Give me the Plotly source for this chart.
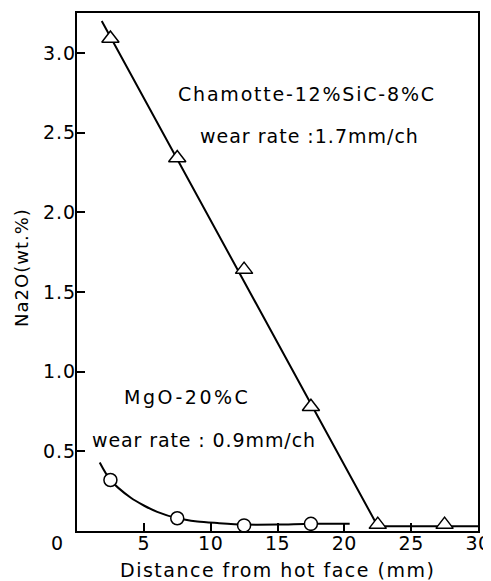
import plotly.graph_objects as go

# Chamotte-12%SiC-8%C measured points
cham_x = [2.5, 7.5, 12.5, 17.5, 22.5, 27.5]
cham_y = [3.09, 2.34, 1.64, 0.78, 0.04, 0.04]
# Chamotte trend line
cham_line_x = [1.85, 22.5, 30.0]
cham_line_y = [3.2, 0.03, 0.03]

# MgO-20%C measured points
mgo_x = [2.5, 7.5, 12.5, 17.5]
mgo_y = [0.32, 0.08, 0.035, 0.045]
# MgO trend curve
mgo_curve_x = [1.7, 2.5, 4.0, 5.0, 6.0, 7.5, 9.0, 10.5, 12.5, 15.0, 17.5, 20.4]
mgo_curve_y = [0.43, 0.32, 0.21, 0.16, 0.12, 0.08, 0.06, 0.05, 0.04, 0.04, 0.045, 0.045]

x_ticks = [5, 10, 15, 20, 25, 30]
y_ticks = [0.5, 1.0, 1.5, 2.0, 2.5, 3.0]
y_tick_labels = ["0.5", "1.0", "1.5", "2.0", "2.5", "3.0"]

FONT = "DejaVu Sans, Verdana, sans-serif"


def spaced(s, px=1.5):
    return '<span style="letter-spacing:%spx">%s</span>' % (px, s)


fig = go.Figure()
fig.add_trace(go.Scatter(x=cham_line_x, y=cham_line_y, mode="lines",
                         line=dict(color="black", width=2), hoverinfo="skip"))
fig.add_trace(go.Scatter(x=mgo_curve_x, y=mgo_curve_y, mode="lines",
                         line=dict(color="black", width=2, shape="spline", smoothing=0.8),
                         hoverinfo="skip"))
fig.add_trace(go.Scatter(x=cham_x, y=cham_y, mode="markers",
                         marker=dict(symbol="triangle-up", size=15, color="white",
                                     line=dict(color="black", width=1.5))))
fig.add_trace(go.Scatter(x=mgo_x, y=mgo_y, mode="markers",
                         marker=dict(symbol="circle", size=13, color="white",
                                     line=dict(color="black", width=1.5))))

ann_font = dict(family=FONT, size=19, color="black")
annotations = [
    dict(x=17.2, y=2.74, text=spaced("Chamotte-12%SiC-8%C", 1.8)),
    dict(x=17.43, y=2.48, text=spaced("wear rate :1.7mm/ch", 1.0)),
    dict(x=8.2, y=0.84, text=spaced("MgO-20%C", 2.5)),
    dict(x=9.5, y=0.57, text=spaced("wear rate : 0.9mm/ch", 0.9)),
]
for a in annotations:
    a.update(xref="x", yref="y", showarrow=False, font=ann_font)
annotations.append(dict(x=-0.05, y=-0.023, xref="paper", yref="paper", text="0",
                        showarrow=False, xanchor="center", yanchor="middle",
                        font=dict(family=FONT, size=19, color="black")))
# axis titles
annotations.append(dict(x=-0.137, y=0.508, xref="paper", yref="paper",
                        text=spaced("Na2O(wt.%)", 1), textangle=-90,
                        showarrow=False, xanchor="center", yanchor="middle",
                        font=dict(family=FONT, size=18, color="black")))
annotations.append(dict(x=0.5, y=-0.075, xref="paper", yref="paper",
                        text=spaced("Distance from hot face (mm)", 1.5),
                        showarrow=False, xanchor="center", yanchor="middle",
                        font=dict(family=FONT, size=19, color="black")))

fig.update_layout(
    width=491, height=581,
    margin=dict(l=69, r=21, t=5, b=58),
    paper_bgcolor="white", plot_bgcolor="white",
    showlegend=False,
    font=dict(family=FONT, size=19, color="black"),
    annotations=annotations,
)
fig.update_xaxes(range=[0, 30], tickvals=x_ticks,
                 ticktext=[spaced(str(v), 0.5) for v in x_ticks],
                 ticks="inside", ticklen=8, automargin=False, ticklabelstandoff=-6,
                 ticklabeloverflow="allow",
                 tickwidth=1.5, tickcolor="black", showgrid=False, zeroline=False,
                 showline=True, linecolor="black", linewidth=2, mirror=True,
                 tickfont=dict(family=FONT, size=19))
fig.update_yaxes(range=[0, 3.25], tickvals=y_ticks,
                 ticktext=[spaced(t, 1) for t in y_tick_labels],
                 ticks="inside", ticklen=8, automargin=False, ticklabelstandoff=-5,
                 ticklabeloverflow="allow",
                 tickwidth=1.5, tickcolor="black",
                 showgrid=False, zeroline=False, showline=True, linecolor="black",
                 linewidth=2, mirror=True,
                 tickfont=dict(family=FONT, size=19))

fig.write_html("out.html")
